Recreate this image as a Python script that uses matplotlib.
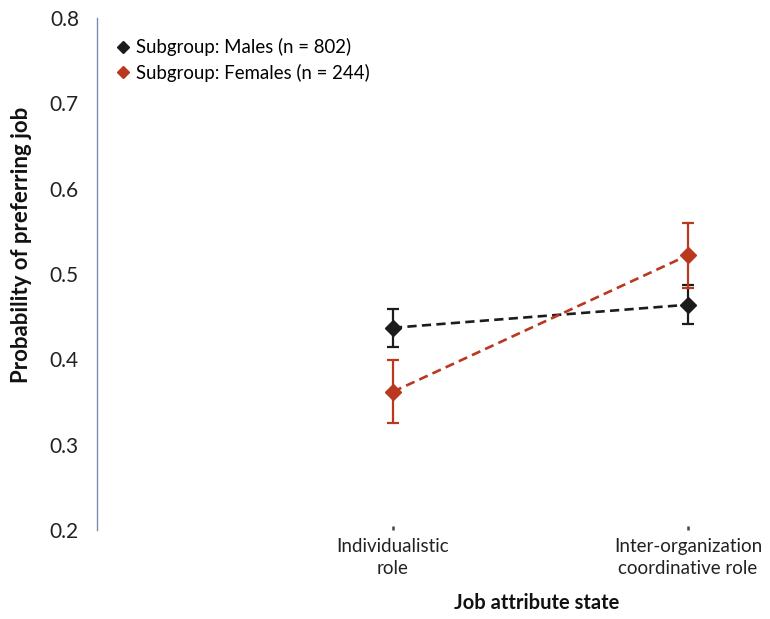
import matplotlib
matplotlib.use("Agg")
import matplotlib.pyplot as plt
from matplotlib.lines import Line2D

plt.rcParams['font.family'] = ['Lato', 'DejaVu Sans']

# Data
categories = ["Individualistic\nrole", "Inter-organization\ncoordinative role"]
males_mean = [0.437, 0.464]
males_err = [0.022, 0.023]
females_mean = [0.362, 0.522]
females_err = [0.037, 0.038]
yticks = [0.2, 0.3, 0.4, 0.5, 0.6, 0.7, 0.8]

male_color = "#1c1c1c"
female_color = "#b9381f"

fig = plt.figure(figsize=(7.70, 6.19), dpi=100)
ax = fig.add_axes([97 / 770, 1 - 530 / 619, 1 - 97 / 770, (530 - 18) / 619])

x = list(range(len(categories)))

for mean, err, col in [(males_mean, males_err, male_color),
                       (females_mean, females_err, female_color)]:
    ax.errorbar(x, mean, yerr=err, fmt='none', ecolor=col, elinewidth=1.6,
                capsize=4.5, capthick=1.6, zorder=3)
    ax.plot(x, mean, linestyle=(0, (3.5, 2)), color=col, linewidth=1.9, zorder=2)
    ax.plot(x, mean, linestyle='none', marker='D', markersize=8,
            color=col, zorder=4)

ax.set_xlim(-1.003, 1.278)
ax.set_ylim(0.2, 0.8)
ax.set_yticks(yticks)
ax.set_yticklabels([f"{v:.1f}" for v in yticks], fontsize=15)
ax.set_xticks(x)
ax.set_xticklabels(categories, fontsize=13.5, linespacing=1.35)

for side in ['top', 'right', 'bottom']:
    ax.spines[side].set_visible(False)
ax.spines['left'].set_color('#7d8bb0')
ax.spines['left'].set_linewidth(1.0)

ax.tick_params(axis='y', length=0, pad=13, colors='#222222')
ax.tick_params(axis='x', direction='in', length=3, width=1.8, color='#444444',
               pad=6, labelcolor='#222222')

ax.set_ylabel("Probability of preferring job", fontsize=16, fontweight='bold',
              color='#111111')
ax.yaxis.set_label_coords(-0.097, 0.557)
ax.set_xlabel("Job attribute state", fontsize=14.5, fontweight='bold',
              color='#111111')
ax.xaxis.set_label_coords(0.654, -0.123)

handles = [
    Line2D([], [], linestyle='none', marker='D', markersize=6, color=male_color),
    Line2D([], [], linestyle='none', marker='D', markersize=6, color=female_color),
]
ax.legend(handles, ["Subgroup: Males (n = 802)", "Subgroup: Females (n = 244)"],
          loc='upper left', bbox_to_anchor=(0.02, 0.975), frameon=False,
          fontsize=13.4, handlelength=0.6, handletextpad=0.35, labelspacing=0.4,
          borderaxespad=0.0)

fig.savefig("out.png", dpi=100)
